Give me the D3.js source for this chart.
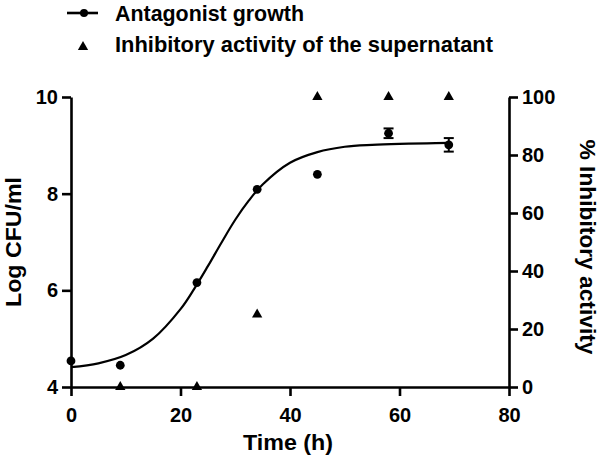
<!DOCTYPE html>
<html>
<head>
<meta charset="utf-8">
<script src="https://cdn.jsdelivr.net/npm/d3@7"></script>
<style>
  html, body { margin: 0; padding: 0; background: #fff; }
  svg { display: block; }
  text { font-family: "Liberation Sans", Arial, sans-serif; fill: #000; }
</style>
</head>
<body>
<svg id="chart" width="600" height="457"></svg>
<script>
// ---- data ----
const timeGrowth = [0, 9, 23, 34, 45, 58, 69];
const logCFU     = [4.54, 4.45, 6.16, 8.09, 8.40, 9.25, 9.01];
const logCFUErr  = [0, 0, 0, 0, 0, 0.10, 0.14];

const timeInhib  = [9, 23, 34, 45, 58, 69];
const inhibition = [0, 0, 25, 100, 100, 100];

// fitted growth curve
const fitTime = [0, 5, 10, 15, 20, 22.5, 25, 27.5, 30, 32.5, 35, 40, 45, 50, 55, 60, 65, 69];
const fitLog  = [4.41, 4.49, 4.66, 5.00, 5.61, 6.03, 6.50, 6.99, 7.46, 7.86, 8.19, 8.64, 8.86, 8.97, 9.01, 9.03, 9.04, 9.05];

const xTicks  = [0, 20, 40, 60, 80];
const yLTicks = [4, 6, 8, 10];
const yRTicks = [0, 20, 40, 60, 80, 100];

const legendLabels = ["Antagonist growth", "Inhibitory activity of the supernatant"];
const xTitle = "Time (h)";
const yLTitle = "Log CFU/ml";
const yRTitle = "% Inhibitory activity";

// ---- layout ----
const svg = d3.select("#chart");
const x  = d3.scaleLinear().domain([0, 80]).range([71, 509]);
const yL = d3.scaleLinear().domain([4, 10]).range([387, 97]);
const yR = d3.scaleLinear().domain([0, 100]).range([387, 97]);

const axisW = 2.6;
function styleAxis(g, fs) {
  g.selectAll("path.domain").attr("stroke", "#000").attr("stroke-width", axisW);
  g.selectAll(".tick line").attr("stroke", "#000").attr("stroke-width", axisW);
  g.selectAll(".tick text").style("font-size", fs + "px").style("font-weight", "bold")
    .style("font-family", "'Liberation Sans', Arial, sans-serif").attr("fill", "#000");
}

svg.append("g").attr("transform", "translate(0,387)")
  .call(d3.axisBottom(x).tickValues(xTicks).tickSize(9).tickSizeOuter(0).tickPadding(12).tickFormat(d3.format("d")))
  .call(g => styleAxis(g, 20));

svg.append("g").attr("transform", "translate(71,0)")
  .call(d3.axisLeft(yL).tickValues(yLTicks).tickSize(9).tickSizeOuter(0).tickPadding(4).tickFormat(d3.format("d")))
  .call(g => styleAxis(g, 20));

svg.append("g").attr("transform", "translate(509,0)")
  .call(d3.axisRight(yR).tickValues(yRTicks).tickSize(9).tickSizeOuter(0).tickPadding(4).tickFormat(d3.format("d")))
  .call(g => styleAxis(g, 20));

// ---- axis titles ----
svg.append("text").attr("x", 288).attr("y", 450).attr("text-anchor", "middle")
  .style("font-size", "22px").style("font-weight", "bold")
  .attr("textLength", 90).attr("lengthAdjust", "spacingAndGlyphs").text(xTitle);

svg.append("text").attr("transform", "translate(21,242) rotate(-90)").attr("text-anchor", "middle")
  .style("font-size", "22px").style("font-weight", "bold")
  .attr("textLength", 130).attr("lengthAdjust", "spacingAndGlyphs").text(yLTitle);

svg.append("text").attr("transform", "translate(580,247) rotate(90)").attr("text-anchor", "middle")
  .style("font-size", "22px").style("font-weight", "bold")
  .attr("textLength", 215).attr("lengthAdjust", "spacingAndGlyphs").text(yRTitle);

// ---- fitted curve ----
const fit = fitTime.map((t, i) => ({ t, v: fitLog[i] }));
svg.append("path").datum(fit)
  .attr("fill", "none").attr("stroke", "#000").attr("stroke-width", 2.2)
  .attr("d", d3.line().x(d => x(d.t)).y(d => yL(d.v)).curve(d3.curveCatmullRom));

// ---- growth points with error bars ----
const growth = timeGrowth.map((t, i) => ({ t, v: logCFU[i], e: logCFUErr[i] }));
const eb = svg.append("g").attr("stroke", "#000").attr("stroke-width", 2);
growth.filter(d => d.e > 0).forEach(d => {
  eb.append("line").attr("x1", x(d.t)).attr("x2", x(d.t)).attr("y1", yL(d.v - d.e)).attr("y2", yL(d.v + d.e));
  eb.append("line").attr("x1", x(d.t) - 5).attr("x2", x(d.t) + 5).attr("y1", yL(d.v - d.e)).attr("y2", yL(d.v - d.e));
  eb.append("line").attr("x1", x(d.t) - 5).attr("x2", x(d.t) + 5).attr("y1", yL(d.v + d.e)).attr("y2", yL(d.v + d.e));
});
svg.append("g").selectAll("circle").data(growth).join("circle")
  .attr("cx", d => x(d.t)).attr("cy", d => yL(d.v)).attr("r", 4.4).attr("fill", "#000");

// ---- inhibitory activity triangles ----
const inhib = timeInhib.map((t, i) => ({ t, v: inhibition[i] }));
const tri = d3.symbol().type(d3.symbolTriangle).size(46);
svg.append("g").selectAll("path").data(inhib).join("path")
  .attr("transform", d => `translate(${x(d.t)},${yR(d.v)})`)
  .attr("d", tri).attr("fill", "#000");

// ---- legend ----
const lg = svg.append("g");
lg.append("line").attr("x1", 67).attr("x2", 98).attr("y1", 13).attr("y2", 13)
  .attr("stroke", "#000").attr("stroke-width", 2.6);
lg.append("circle").attr("cx", 84).attr("cy", 13).attr("r", 4).attr("fill", "#000");
lg.append("path").attr("transform", "translate(83,47)").attr("d", tri).attr("fill", "#000");
lg.append("text").attr("x", 115).attr("y", 21).style("font-size", "22px").style("font-weight", "bold")
  .attr("textLength", 189).attr("lengthAdjust", "spacingAndGlyphs").text(legendLabels[0]);
lg.append("text").attr("x", 115).attr("y", 52).style("font-size", "22px").style("font-weight", "bold")
  .attr("textLength", 378).attr("lengthAdjust", "spacingAndGlyphs").text(legendLabels[1]);
</script>
</body>
</html>
